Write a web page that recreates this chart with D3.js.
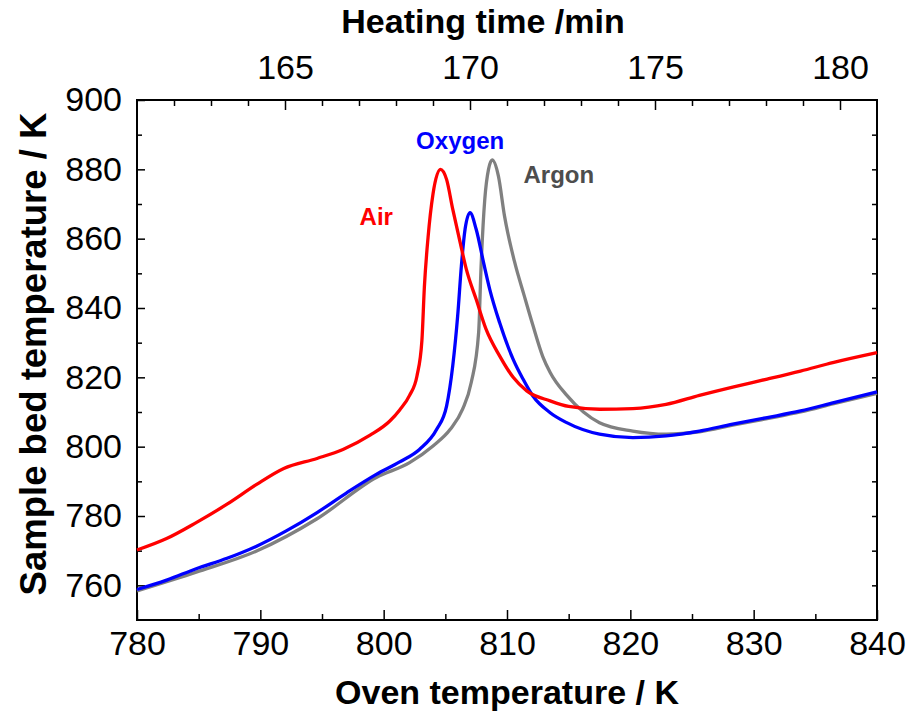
<!DOCTYPE html>
<html>
<head>
<meta charset="utf-8">
<script src="https://cdn.jsdelivr.net/npm/d3@7"></script>
<style>
  body { margin: 0; background: #fff; }
  svg text { font-family: "Liberation Sans", Arial, sans-serif; }
</style>
</head>
<body>
<div id="chart"></div>
<script>
// oven temperature (K) vs sample bed temperature (K)
const airX = [780, 782.4, 784.8, 787.3, 789.7, 791.9, 794.6, 796.7, 798.9, 800.5, 801.3, 802.1, 802.7, 803.1, 803.3, 803.6, 804.0, 804.6, 805.1, 805.6, 806.2, 806.7, 807.5, 808.3, 809.4, 810.5, 811.6, 813.5, 815.0, 817.5, 820.2, 822.9, 825.6, 828.3, 831.1, 833.8, 836.5, 840];
const airY = [770.2, 773.5, 778.1, 783.4, 789.1, 793.7, 796.6, 799.2, 803.3, 807.4, 810.6, 814.8, 820.4, 830.6, 846.0, 860.4, 872.9, 880.0, 877.1, 868.5, 858.9, 851.2, 842.5, 833.9, 826.2, 820.0, 816.1, 813.2, 811.6, 810.8, 811.0, 812.2, 814.8, 817.2, 819.5, 821.8, 824.3, 827.1];

const oxyX = [780, 782.4, 784.8, 787.3, 789.7, 792.1, 794.6, 797.0, 799.4, 801.3, 802.9, 804.3, 805.1, 805.6, 806.0, 806.3, 806.6, 807.0, 807.5, 808.1, 808.6, 809.4, 810.5, 811.3, 812.1, 813.5, 814.8, 817.5, 820.2, 822.9, 825.6, 828.3, 831.1, 833.8, 836.5, 840];
const oxyY = [758.8, 761.5, 764.8, 767.8, 771.3, 775.7, 781.0, 786.7, 792.0, 795.6, 799.2, 805.0, 811.7, 823.3, 837.7, 852.1, 862.7, 867.5, 862.7, 853.1, 845.4, 835.8, 825.2, 819.5, 814.6, 809.8, 807.0, 803.6, 802.6, 803.1, 804.5, 806.5, 808.4, 810.3, 812.7, 815.8];

const argX = [780, 784.8, 789.7, 794.6, 799.4, 802.1, 804.0, 805.4, 806.4, 807.1, 807.7, 807.9, 808.2, 808.5, 808.8, 809.3, 809.8, 810.6, 811.4, 812.1, 812.9, 813.5, 814.8, 816.2, 817.5, 820.2, 822.9, 825.6, 828.3, 831.1, 833.8, 836.5, 840];
const argY = [758.4, 763.8, 769.9, 779.2, 791.1, 795.4, 800.2, 805.0, 810.8, 818.5, 832.9, 852.1, 871.4, 880.0, 882.7, 878.1, 866.5, 853.5, 843.5, 835.0, 826.0, 821.4, 815.0, 810.0, 806.9, 804.5, 803.6, 804.3, 806.2, 808.1, 810.0, 812.4, 815.4];

const xTicks = [780, 790, 800, 810, 820, 830, 840];
const yTicks = [760, 780, 800, 820, 840, 860, 880, 900];
const timeTicks = [165, 170, 175, 180];

const seriesNames = ['Air', 'Oxygen', 'Argon'];
const seriesColors = ['#ff0000', '#0000ff', '#808080'];
const labelColors = ['#ff0000', '#0000ff', '#4d4d4d'];
// label anchor positions in data units (oven K, bed K)
const labelX = [799.4, 806.2, 814.2];
const labelY = [864.0, 886.0, 876.2];

const W = 908, H = 712;
const margin = { top: 100, right: 31, bottom: 92, left: 137 };
const width = W - margin.left - margin.right;
const height = H - margin.top - margin.bottom;

const svg = d3.select('#chart').append('svg')
  .attr('width', W)
  .attr('height', H);

const g = svg.append('g')
  .attr('transform', 'translate(' + margin.left + ',' + margin.top + ')');

const x = d3.scaleLinear().domain([780, 840]).range([0, width]);
const y = d3.scaleLinear().domain([750, 900]).range([height, 0]);
const t = d3.scaleLinear().domain([161, 181]).range([0, width]);

function styleAxis(sel) {
  sel.select('.domain').remove();
  sel.selectAll('line').attr('stroke', '#000').attr('stroke-width', 1.5);
  sel.selectAll('text').attr('font-size', 34).attr('fill', '#000');
}

// bottom
g.append('g').attr('transform', 'translate(0,' + height + ')')
  .call(d3.axisBottom(x).tickValues(d3.range(785, 840, 10)).tickSize(-6).tickFormat(''))
  .call(styleAxis);
g.append('g').attr('transform', 'translate(0,' + height + ')')
  .call(d3.axisBottom(x).tickValues(xTicks).tickSize(-10).tickPadding(6).tickFormat(d3.format('d')))
  .call(styleAxis)
  .selectAll('text').attr('dy', '0.85em');

// top
g.append('g')
  .call(d3.axisTop(t).tickValues(d3.range(162, 181, 1).filter(d => d % 5 !== 0)).tickSize(-6).tickFormat(''))
  .call(styleAxis);
g.append('g')
  .call(d3.axisTop(t).tickValues(timeTicks).tickSize(-10).tickPadding(21).tickFormat(d3.format('d')))
  .call(styleAxis);

// left
g.append('g')
  .call(d3.axisLeft(y).tickValues(d3.range(770, 900, 20)).tickSize(-5).tickFormat(''))
  .call(styleAxis);
g.append('g')
  .call(d3.axisLeft(y).tickValues(yTicks).tickSize(-8).tickPadding(15).tickFormat(d3.format('d')))
  .call(styleAxis);

// right
g.append('g').attr('transform', 'translate(' + width + ',0)')
  .call(d3.axisRight(y).tickValues(d3.range(760, 900, 10)).tickSize(-5).tickFormat(''))
  .call(styleAxis);

// frame
g.append('rect')
  .attr('width', width)
  .attr('height', height)
  .attr('fill', 'none')
  .attr('stroke', '#000')
  .attr('stroke-width', 2);

const line = d3.line()
  .x(d => x(d[0]))
  .y(d => y(d[1]))
  .curve(d3.curveMonotoneX);

const seriesData = [
  d3.zip(airX, airY),
  d3.zip(oxyX, oxyY),
  d3.zip(argX, argY)
];

// argon first so oxygen and air sit on top
[2, 1, 0].forEach(i => {
  g.append('path')
    .datum(seriesData[i])
    .attr('fill', 'none')
    .attr('stroke', seriesColors[i])
    .attr('stroke-width', 3.3)
    .attr('d', line);
});

seriesNames.forEach((name, i) => {
  g.append('text')
    .attr('x', x(labelX[i]))
    .attr('y', y(labelY[i]))
    .attr('text-anchor', 'middle')
    .attr('font-size', 24)
    .attr('font-weight', 'bold')
    .attr('fill', labelColors[i])
    .text(name);
});

// axis titles
svg.append('text')
  .attr('x', 507)
  .attr('y', 704)
  .attr('text-anchor', 'middle')
  .attr('font-size', 34)
  .attr('font-weight', 'bold')
  .text('Oven temperature / K');

svg.append('text')
  .attr('x', 483)
  .attr('y', 33)
  .attr('text-anchor', 'middle')
  .attr('font-size', 34)
  .attr('font-weight', 'bold')
  .text('Heating time /min');

svg.append('text')
  .attr('transform', 'translate(46,354) rotate(-90)')
  .attr('text-anchor', 'middle')
  .attr('font-size', 36.5)
  .attr('font-weight', 'bold')
  .text('Sample bed temperature / K');
</script>
</body>
</html>
